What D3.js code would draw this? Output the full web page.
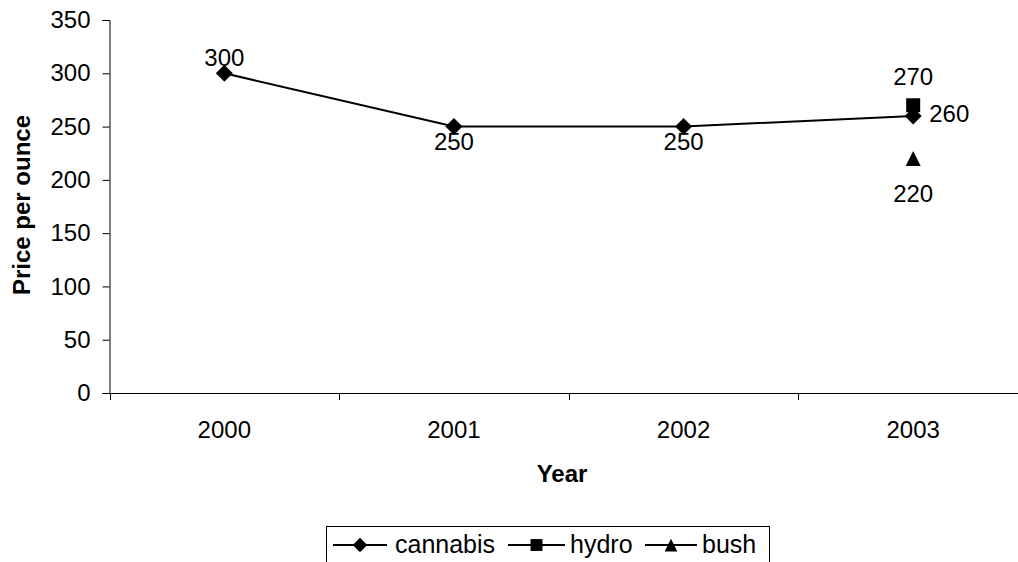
<!DOCTYPE html>
<html>
<head>
<meta charset="utf-8">
<script src="https://cdn.jsdelivr.net/npm/d3@7"></script>
<style>
  body { margin: 0; background: #fff; }
  svg { display: block; font-family: "Liberation Sans", Arial, sans-serif; }
</style>
</head>
<body>
<div id="chart"></div>
<script>
var years = ["2000", "2001", "2002", "2003"];
var cannabis = [300, 250, 250, 260];
var hydro = [null, null, null, 270];
var bush = [null, null, null, 220];
var yTicks = [0, 50, 100, 150, 200, 250, 300, 350];
// label placement per point, like excel's "above/below/right"
var cannabisPos = ["above", "below", "below", "right"];
var hydroPos = [null, null, null, "above"];
var bushPos = [null, null, null, "below"];

var width = 1018, height = 562;
var svg = d3.select("#chart").append("svg")
    .attr("width", width)
    .attr("height", height);

var x = d3.scalePoint()
    .domain(years)
    .range([109.5, 1028])
    .padding(0.5);

var y = d3.scaleLinear()
    .domain([0, 350])
    .range([393, 20]);

var fs = 24;

// square diamond (d3's is too tall)
var diamond = function(r) {
    return "M0," + (-r) + "L" + r + ",0L0," + r + "L" + (-r) + ",0Z";
};
var square = function(r) {
    return "M" + (-r) + "," + (-r) + "h" + (2 * r) + "v" + (2 * r) + "h" + (-2 * r) + "Z";
};
var triangle = function(r) {
    return "M0," + (-r) + "L" + r + "," + r + "L" + (-r) + "," + r + "Z";
};

// y axis
var yAxis = svg.append("g")
    .attr("transform", "translate(109.5,0)")
    .call(d3.axisLeft(y).tickValues(yTicks).tickSize(7).tickPadding(12));
yAxis.select(".domain").attr("stroke", "#000");
yAxis.selectAll(".tick line").attr("stroke", "#000");
yAxis.selectAll("text")
    .attr("font-size", fs)
    .attr("font-family", "Liberation Sans, Arial, sans-serif")
    .attr("fill", "#000");

// x axis - ticks sit between categories
var step = x.step();
var xAxisG = svg.append("g");
xAxisG.append("line")
    .attr("x1", 109.5).attr("x2", 1028)
    .attr("y1", y(0) + 0.5).attr("y2", y(0) + 0.5)
    .attr("stroke", "#000");
var boundaries = d3.range(years.length + 1).map(function(i) {
    return x(years[0]) - step / 2 + i * step;
});
xAxisG.selectAll(".xt")
    .data(boundaries)
    .enter().append("line")
    .attr("class", "xt")
    .attr("x1", function(d) { return Math.round(d) + 0.5; })
    .attr("x2", function(d) { return Math.round(d) + 0.5; })
    .attr("y1", y(0))
    .attr("y2", y(0) + 7)
    .attr("stroke", "#000");
xAxisG.selectAll(".xl")
    .data(years)
    .enter().append("text")
    .attr("class", "xl")
    .attr("x", function(d) { return x(d); })
    .attr("y", 438)
    .attr("text-anchor", "middle")
    .attr("font-size", fs)
    .text(function(d) { return d; });

// axis titles
svg.append("text")
    .attr("x", 562)
    .attr("y", 482)
    .attr("text-anchor", "middle")
    .attr("font-size", fs)
    .attr("font-weight", "bold")
    .text("Year");

svg.append("text")
    .attr("transform", "translate(30,205) rotate(-90)")
    .attr("text-anchor", "middle")
    .attr("font-size", fs)
    .attr("font-weight", "bold")
    .text("Price per ounce");

// series
var series = [
    { name: "cannabis", values: cannabis, pos: cannabisPos, shape: diamond, r: 8.5 },
    { name: "hydro", values: hydro, pos: hydroPos, shape: square, r: 7 },
    { name: "bush", values: bush, pos: bushPos, shape: triangle, r: 7.5 }
];

var line = d3.line()
    .defined(function(d) { return d.v != null; })
    .x(function(d) { return x(d.year); })
    .y(function(d) { return y(d.v); });

series.forEach(function(s) {
    var pts = years.map(function(yr, i) { return { year: yr, v: s.values[i], pos: s.pos[i] }; });
    svg.append("path")
        .datum(pts)
        .attr("fill", "none")
        .attr("stroke", "#000")
        .attr("stroke-width", 2)
        .attr("d", line);

    var valid = pts.filter(function(d) { return d.v != null; });
    svg.selectAll(".m-" + s.name)
        .data(valid)
        .enter().append("path")
        .attr("class", "m-" + s.name)
        .attr("transform", function(d) { return "translate(" + x(d.year) + "," + y(d.v) + ")"; })
        .attr("d", s.shape(s.r))
        .attr("fill", "#000");

    svg.selectAll(".l-" + s.name)
        .data(valid)
        .enter().append("text")
        .attr("class", "l-" + s.name)
        .attr("font-size", fs)
        .attr("text-anchor", function(d) { return d.pos == "right" ? "start" : "middle"; })
        .attr("x", function(d) {
            if (d.pos == "right") return x(d.year) + 16;
            return x(d.year);
        })
        .attr("y", function(d) {
            var py = y(d.v);
            if (d.pos == "above") return d.v == 300 ? py - 7 : py - 20;
            if (d.pos == "below") return d.v == 220 ? py + 43 : py + 23;
            return py + 6;
        })
        .text(function(d) { return d.v; });
});

// legend
var lg = svg.append("g");
lg.append("rect")
    .attr("x", 326.5).attr("y", 526.5)
    .attr("width", 443).attr("height", 50)
    .attr("fill", "#fff")
    .attr("stroke", "#000");

// [line start, line end, text x]
var legendSlots = [[333, 387, 395], [508, 565, 570], [645, 697, 702]];
series.forEach(function(s, i) {
    var slot = legendSlots[i];
    var ly = 545;
    lg.append("line")
        .attr("x1", slot[0]).attr("x2", slot[1])
        .attr("y1", ly).attr("y2", ly)
        .attr("stroke", "#000").attr("stroke-width", 2);
    lg.append("path")
        .attr("transform", "translate(" + ((slot[0] + slot[1]) / 2) + "," + ly + ")")
        .attr("d", s.shape(s.r * 0.85))
        .attr("fill", "#000");
    lg.append("text")
        .attr("x", slot[2])
        .attr("y", 553)
        .attr("font-size", 25)
        .text(s.name);
});
</script>
</body>
</html>
